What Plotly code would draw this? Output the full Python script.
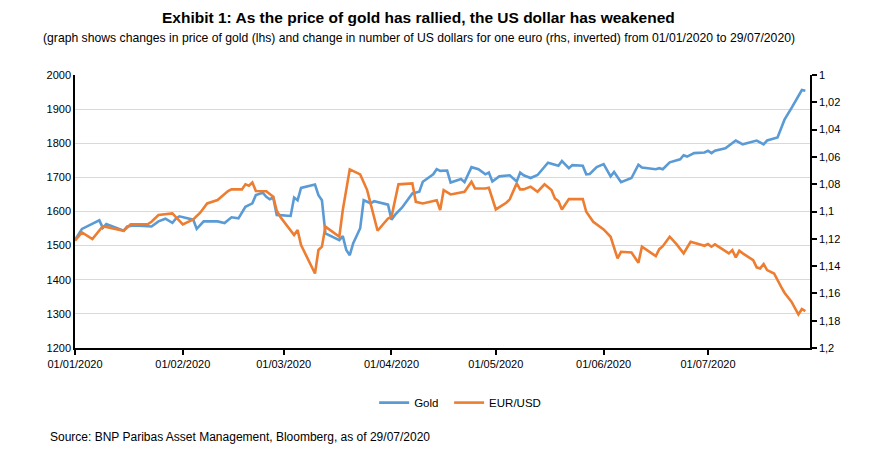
import plotly.graph_objects as go

gold_dates = [
    "2020-01-01", "2020-01-03", "2020-01-08", "2020-01-09", "2020-01-10", "2020-01-15", "2020-01-16",
    "2020-01-18", "2020-01-23", "2020-01-25", "2020-01-27", "2020-01-29", "2020-01-30", "2020-01-31",
    "2020-02-04", "2020-02-05", "2020-02-07", "2020-02-11", "2020-02-13", "2020-02-15", "2020-02-17",
    "2020-02-19", "2020-02-21", "2020-02-22", "2020-02-24", "2020-02-25", "2020-02-26", "2020-02-27",
    "2020-02-28", "2020-03-03", "2020-03-04", "2020-03-05", "2020-03-06", "2020-03-10", "2020-03-11",
    "2020-03-12", "2020-03-13", "2020-03-17", "2020-03-18", "2020-03-19", "2020-03-20", "2020-03-21",
    "2020-03-23", "2020-03-24", "2020-03-26", "2020-03-27", "2020-03-31", "2020-04-01", "2020-04-02",
    "2020-04-04", "2020-04-07", "2020-04-09", "2020-04-10", "2020-04-13", "2020-04-14", "2020-04-15",
    "2020-04-17", "2020-04-18", "2020-04-21", "2020-04-22", "2020-04-24", "2020-04-26", "2020-04-28",
    "2020-04-29", "2020-04-30", "2020-05-02", "2020-05-05", "2020-05-07", "2020-05-08", "2020-05-09",
    "2020-05-11", "2020-05-13", "2020-05-16", "2020-05-19", "2020-05-20", "2020-05-22", "2020-05-23",
    "2020-05-26", "2020-05-27", "2020-05-28", "2020-05-30", "2020-06-01", "2020-06-03", "2020-06-04",
    "2020-06-06", "2020-06-09", "2020-06-11", "2020-06-12", "2020-06-16", "2020-06-17", "2020-06-18",
    "2020-06-20", "2020-06-23", "2020-06-24", "2020-06-25", "2020-06-27", "2020-06-30", "2020-07-01",
    "2020-07-02", "2020-07-03", "2020-07-06", "2020-07-09", "2020-07-11", "2020-07-13", "2020-07-15",
    "2020-07-17", "2020-07-18", "2020-07-21", "2020-07-23", "2020-07-25", "2020-07-26", "2020-07-27",
    "2020-07-28", "2020-07-29",
]
gold_values = [
    1517, 1549, 1574, 1552, 1563, 1544, 1556,
    1559, 1556, 1571, 1579, 1567, 1579, 1586,
    1576, 1549, 1571, 1571, 1566, 1583, 1580,
    1614, 1624, 1648, 1655, 1643, 1636, 1641,
    1590, 1587, 1641, 1633, 1669, 1679, 1648,
    1633, 1536, 1516, 1528, 1487, 1472, 1507,
    1551, 1633, 1624, 1630, 1620, 1576, 1590,
    1611, 1653, 1658, 1687, 1709, 1724, 1719,
    1720, 1685, 1695, 1686, 1730, 1724, 1709,
    1714, 1688, 1703, 1706, 1688, 1714, 1706,
    1698, 1707, 1743, 1734, 1748, 1727, 1736,
    1734, 1709, 1710, 1730, 1739, 1703, 1716,
    1686, 1698, 1737, 1729, 1724, 1727, 1724,
    1744, 1753, 1765, 1761, 1771, 1773, 1778,
    1771, 1778, 1785, 1808, 1797, 1802, 1808,
    1797, 1808, 1817, 1869, 1903, 1920, 1937,
    1956, 1954,
]

eur_dates = [
    "2020-01-01", "2020-01-03", "2020-01-06", "2020-01-09", "2020-01-15", "2020-01-17", "2020-01-22",
    "2020-01-23", "2020-01-25", "2020-01-29", "2020-02-01", "2020-02-04", "2020-02-06", "2020-02-08",
    "2020-02-11", "2020-02-14", "2020-02-15", "2020-02-18", "2020-02-19", "2020-02-20", "2020-02-21",
    "2020-02-22", "2020-02-25", "2020-02-27", "2020-02-28", "2020-02-29", "2020-03-04", "2020-03-05",
    "2020-03-06", "2020-03-10", "2020-03-11", "2020-03-12", "2020-03-13", "2020-03-17", "2020-03-18",
    "2020-03-20", "2020-03-23", "2020-03-25", "2020-03-28", "2020-03-31", "2020-04-01", "2020-04-03",
    "2020-04-07", "2020-04-08", "2020-04-10", "2020-04-14", "2020-04-15", "2020-04-16", "2020-04-18",
    "2020-04-20", "2020-04-22", "2020-04-24", "2020-04-25", "2020-04-28", "2020-04-29", "2020-05-01",
    "2020-05-04", "2020-05-05", "2020-05-07", "2020-05-08", "2020-05-09", "2020-05-11", "2020-05-13",
    "2020-05-15", "2020-05-17", "2020-05-18", "2020-05-19", "2020-05-20", "2020-05-22", "2020-05-26",
    "2020-05-27", "2020-05-29", "2020-06-01", "2020-06-03", "2020-06-04", "2020-06-05", "2020-06-06",
    "2020-06-09", "2020-06-11", "2020-06-12", "2020-06-16", "2020-06-17", "2020-06-18", "2020-06-20",
    "2020-06-22", "2020-06-24", "2020-06-26", "2020-06-28", "2020-06-30", "2020-07-01", "2020-07-02",
    "2020-07-03", "2020-07-07", "2020-07-08", "2020-07-09", "2020-07-10", "2020-07-11", "2020-07-14",
    "2020-07-15", "2020-07-16", "2020-07-17", "2020-07-18", "2020-07-20", "2020-07-22", "2020-07-23",
    "2020-07-25", "2020-07-26", "2020-07-27", "2020-07-28", "2020-07-29",
]
eur_values = [
    1.1214, 1.1153, 1.1202, 1.1107, 1.1141, 1.1094, 1.1092,
    1.1075, 1.1026, 1.1014, 1.1094, 1.1058, 1.1009, 1.0941,
    1.0916, 1.0850, 1.0838, 1.0838, 1.0801, 1.0811, 1.0787,
    1.0850, 1.0852, 1.0892, 1.0994, 1.1038, 1.1172, 1.1136,
    1.1246, 1.1454, 1.1282, 1.1258, 1.1111, 1.1185, 1.0989,
    1.0691, 1.0728, 1.0843, 1.1141, 1.1051, 1.1039, 1.0801,
    1.0794, 1.0929, 1.0941, 1.0917, 1.0990, 1.0843, 1.0875,
    1.0867, 1.0855, 1.0782, 1.0831, 1.0831, 1.0826, 1.0985,
    1.0936, 1.0911, 1.0794, 1.0838, 1.0838, 1.0818, 1.0855,
    1.0801, 1.0843, 1.0904, 1.0924, 1.0985, 1.0909, 1.0909,
    1.1002, 1.1075, 1.1131, 1.1185, 1.1258, 1.1344, 1.1295,
    1.1300, 1.1376, 1.1258, 1.1327, 1.1276, 1.1254, 1.1185,
    1.1241, 1.1307, 1.1222, 1.1234, 1.1251, 1.1239, 1.1258,
    1.1241, 1.1307, 1.1283, 1.1337, 1.1288, 1.1307, 1.1356,
    1.1409, 1.1417, 1.1385, 1.1429, 1.1454, 1.1551, 1.1595,
    1.1661, 1.1710, 1.1754, 1.1714, 1.1729,
]

x_tick_vals = ["2020-01-01", "2020-02-01", "2020-03-01", "2020-04-01", "2020-05-01", "2020-06-01", "2020-07-01"]
x_tick_text = ["01/01/2020", "01/02/2020", "01/03/2020", "01/04/2020", "01/05/2020", "01/06/2020", "01/07/2020"]
rhs_tick_vals = [1.0, 1.02, 1.04, 1.06, 1.08, 1.1, 1.12, 1.14, 1.16, 1.18, 1.2]
rhs_tick_text = ["1", "1,02", "1,04", "1,06", "1,08", "1,1", "1,12", "1,14", "1,16", "1,18", "1,2"]

title_text = "Exhibit 1: As the price of gold has rallied, the US dollar has weakened"
subtitle_text = ("(graph shows changes in price of gold (lhs) and change in number of US dollars for one euro "
                 "(rhs, inverted) from 01/01/2020 to 29/07/2020)")
source_text = "Source: BNP Paribas Asset Management, Bloomberg, as of 29/07/2020"

FONT = "Liberation Sans Narrow, Arial Narrow, Liberation Sans, Arial, sans-serif"
BLUE = "#5B9BD5"
ORANGE = "#ED7D31"

fig = go.Figure()
fig.add_trace(go.Scatter(x=gold_dates, y=gold_values, name="Gold", mode="lines",
                         line=dict(color=BLUE, width=2.6), yaxis="y", legend="legend"))
fig.add_trace(go.Scatter(x=eur_dates, y=eur_values, name="EUR/USD", mode="lines",
                         line=dict(color=ORANGE, width=2.6), yaxis="y2", legend="legend2"))

legend_common = dict(orientation="h", xanchor="left", y=-0.2, yanchor="middle",
                     font=dict(size=11.5, family=FONT), bgcolor="rgba(0,0,0,0)")

fig.update_layout(
    width=889, height=462,
    margin=dict(l=75, r=79, t=75, b=114),
    paper_bgcolor="white", plot_bgcolor="white",
    font=dict(family=FONT, size=11, color="#000000"),
    showlegend=True,
    legend=dict(x=0.407, **legend_common),
    legend2=dict(x=0.509, **legend_common),
    xaxis=dict(type="date", range=["2020-01-01", "2020-07-30 08:00"],
               tickvals=x_tick_vals, ticktext=x_tick_text,
               showline=True, linecolor="black", linewidth=1.5,
               ticks="outside", ticklen=5, tickcolor="black", tickwidth=1.5,
               showgrid=False, zeroline=False, tickfont=dict(size=11, family=FONT)),
    yaxis=dict(range=[1200, 2000], dtick=100, tick0=1200,
               showline=True, linecolor="black", linewidth=1.5,
               ticks="", showgrid=True, gridcolor="#d9d9d9", gridwidth=1,
               zeroline=False, tickfont=dict(size=11, family=FONT)),
    yaxis2=dict(range=[1.2, 1.0], overlaying="y", side="right",
                tickvals=rhs_tick_vals, ticktext=rhs_tick_text,
                showline=True, linecolor="black", linewidth=1.5,
                ticks="outside", ticklen=5, tickcolor="black", tickwidth=1.5,
                showgrid=False, zeroline=False, tickfont=dict(size=11, family=FONT)),
    annotations=[
        dict(text="<b>" + title_text + "</b>", x=0.468, y=1.209, xref="paper", yref="paper",
             xanchor="center", yanchor="middle", showarrow=False,
             font=dict(size=15.5, family=FONT, color="black")),
        dict(text=subtitle_text, x=0.468, y=1.1355, xref="paper", yref="paper",
             xanchor="center", yanchor="middle", showarrow=False,
             font=dict(size=12.2, family=FONT, color="black")),
        dict(text=source_text, x=-0.037, y=-0.326, xref="paper", yref="paper",
             xanchor="left", yanchor="middle", showarrow=False,
             font=dict(size=12, family=FONT, color="black")),
    ],
)

fig.write_html("out.html")
